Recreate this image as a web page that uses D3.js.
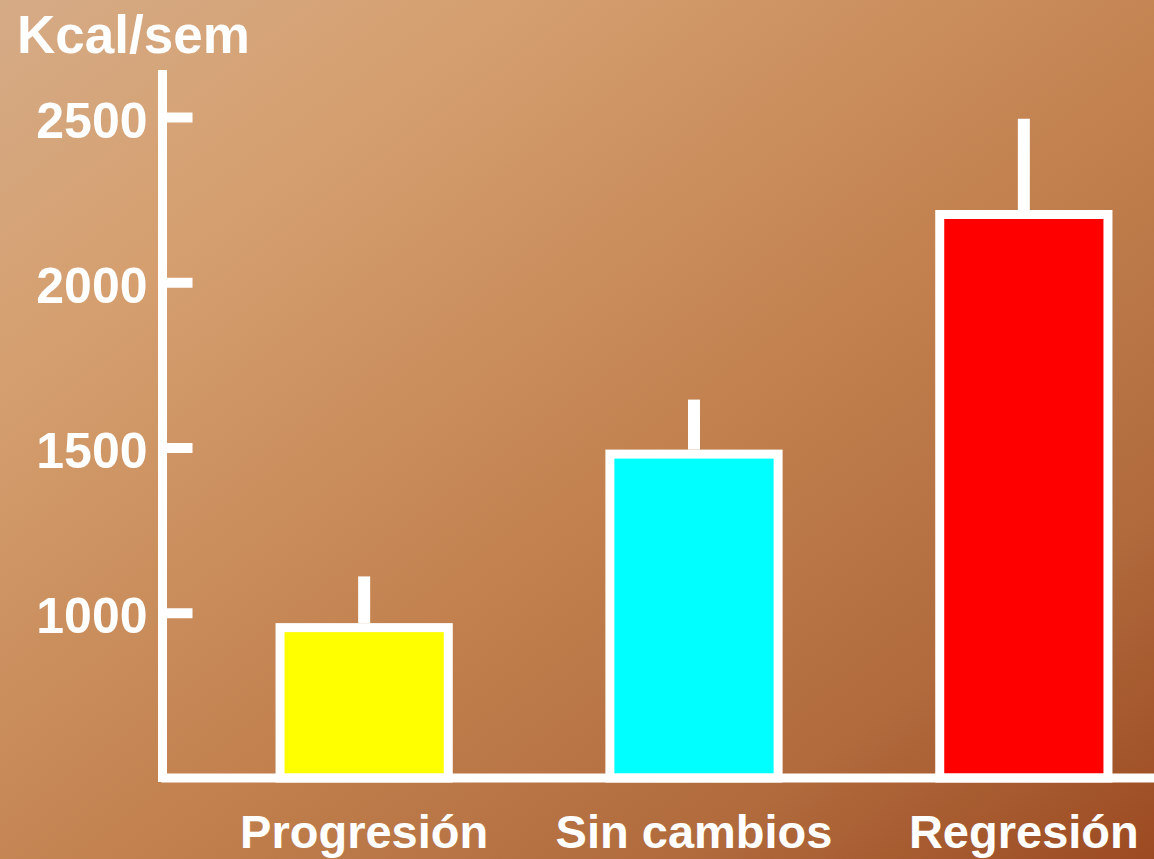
<!DOCTYPE html>
<html>
<head>
<meta charset="utf-8">
<script src="https://cdn.jsdelivr.net/npm/d3@7"></script>
<style>
  html, body { margin: 0; padding: 0; overflow: hidden; }
  svg { display: block; }
  text { font-family: "Liberation Sans", Arial, sans-serif; font-weight: bold; fill: #ffffff; }
</style>
</head>
<body>
<svg id="chart" width="1154" height="859"></svg>
<script>
// Weekly energy expenditure (Kcal/sem) by change group
const categories = ["Progresión", "Sin cambios", "Regresión"];
const means = [955, 1480, 2205];
const errors = [155, 165, 290];
const barColors = ["#ffff00", "#00ffff", "#ff0000"];
const tickValues = [1000, 1500, 2000, 2500];
const axisTitle = "Kcal/sem";

const W = 1154, H = 859;
const svg = d3.select("#chart");

// Diagonal brown background
const defs = svg.append("defs");
const grad = defs.append("linearGradient")
  .attr("id", "bg").attr("x1", 0).attr("y1", 0).attr("x2", 1).attr("y2", 1);
[["0%", "#d5ab86"], ["22%", "#d59f6f"], ["55%", "#c2814f"], ["80%", "#b06a3c"], ["100%", "#9c4a21"]]
  .forEach(([o, c]) => grad.append("stop").attr("offset", o).attr("stop-color", c));
svg.append("rect").attr("width", W).attr("height", H).attr("fill", "url(#bg)");

const axisX = 162.5;
const y = d3.scaleLinear().domain([500, 2500]).range([778, 117]);
const x = d3.scaleBand().domain(categories)
  .range([158, 1230]).paddingInner(0.49).paddingOuter(0.37);

// Bars with white outline
const bars = svg.append("g");
bars.selectAll("rect").data(categories).join("rect")
  .attr("x", d => x(d))
  .attr("y", (d, i) => y(means[i]))
  .attr("width", x.bandwidth())
  .attr("height", (d, i) => y.range()[0] - y(means[i]))
  .attr("fill", (d, i) => barColors[i])
  .attr("stroke", "#ffffff")
  .attr("stroke-width", 9);

// Upper error whiskers
bars.selectAll("line").data(categories).join("line")
  .attr("x1", d => x(d) + x.bandwidth() / 2)
  .attr("x2", d => x(d) + x.bandwidth() / 2)
  .attr("y1", (d, i) => y(means[i]) - 4.5)
  .attr("y2", (d, i) => y(means[i] + errors[i]))
  .attr("stroke", "#ffffff")
  .attr("stroke-width", 12);

// Axis lines
svg.append("line")
  .attr("x1", axisX).attr("x2", axisX).attr("y1", 70).attr("y2", 782)
  .attr("stroke", "#ffffff").attr("stroke-width", 9);
svg.append("line")
  .attr("x1", axisX - 1).attr("x2", W).attr("y1", y.range()[0]).attr("y2", y.range()[0])
  .attr("stroke", "#ffffff").attr("stroke-width", 9);

// Y axis ticks pointing inward, labels on the left
const yAxis = d3.axisLeft(y).tickValues(tickValues)
  .tickSizeInner(-30).tickSizeOuter(0).tickPadding(15)
  .tickFormat(d3.format("d"));
const gy = svg.append("g").attr("transform", `translate(${axisX},0)`).call(yAxis);
gy.select(".domain").remove();
gy.selectAll(".tick line").attr("stroke", "#ffffff").attr("stroke-width", 10);
gy.selectAll(".tick text")
  .attr("fill", "#ffffff")
  .attr("font-family", "'Liberation Sans', Arial, sans-serif")
  .attr("font-weight", "bold")
  .attr("font-size", 50)
  .attr("dy", "0.4em");

// Axis title
svg.append("text")
  .attr("x", 17).attr("y", 53)
  .attr("font-size", 53)
  .text(axisTitle);

// Category labels
svg.append("g").selectAll("text").data(categories).join("text")
  .attr("x", d => x(d) + x.bandwidth() / 2)
  .attr("y", 848)
  .attr("text-anchor", "middle")
  .attr("font-size", 47)
  .text(d => d);
</script>
</body>
</html>
